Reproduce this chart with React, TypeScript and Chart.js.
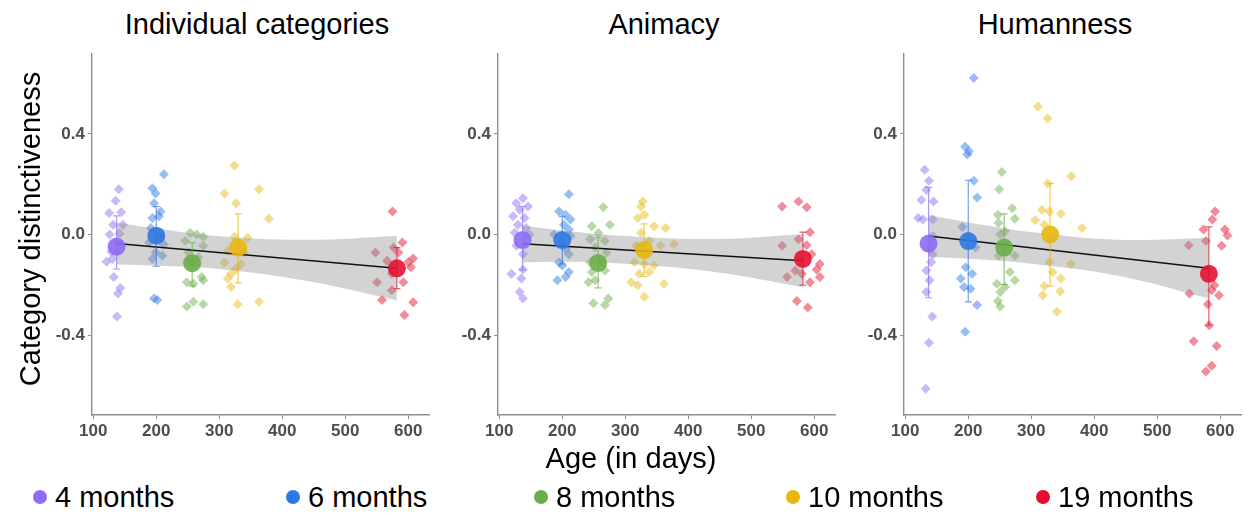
import React, { useEffect, useRef } from 'react';
import { Chart, registerables } from 'chart.js';
Chart.register(...registerables);

// ---------- shared ----------
const groupLabels = ['4 months', '6 months', '8 months', '10 months', '19 months'];
const groupColors = ['#8e6cf4', '#2f78e4', '#6aae48', '#e8b70e', '#e2112f'];
const groupAges = [137, 200, 257, 330, 582];
const xTicks = [100, 200, 300, 400, 500, 600];
const yTicks = [-0.4, 0, 0.4];
const yTickLabels = ['-0.4', '0.0', '0.4'];
const panelTitles = ['Individual categories', 'Animacy', 'Humanness'];
const regX = [137, 582];
const bandX = [137, 200, 300, 440, 582];

// ---------- panel 1: Individual categories ----------
const p1_m4 = [[140.7,0.18],[135.5,0.135],[125.1,0.086],[144.4,0.089],[131.4,0.04],[147,0.04],[141.8,0.005],[126.1,0.001],[136.6,-0.031],[128.7,-0.068],[136.6,-0.07],[130.3,-0.096],[121,-0.107],[132.4,-0.168],[142.8,-0.211],[139.2,-0.233],[137.6,-0.324]];
const p1_m6 = [[212.1,0.24],[193.9,0.184],[199,0.164],[196.5,0.125],[206.9,0.092],[204.3,0.073],[193.9,0.066],[191.3,0.027],[206.9,-0.012],[188.6,-0.031],[212.1,-0.038],[199,-0.07],[209.5,-0.083],[193.9,-0.096],[196.5,-0.253],[201.7,-0.259]];
const p1_m8 = [[253.8,0.008],[264.2,0.001],[274.6,-0.008],[245.9,-0.025],[274.6,-0.044],[251.1,-0.07],[266.8,-0.09],[256.4,-0.109],[272,-0.168],[274.6,-0.181],[248.5,-0.188],[258.9,-0.194],[258.9,-0.266],[274.6,-0.276],[248.5,-0.285]];
const p1_m10 = [[324.1,0.275],[363.1,0.18],[308.4,0.164],[326.7,0.125],[378.8,0.063],[324.1,-0.008],[344.9,-0.012],[313.6,-0.064],[339.7,-0.07],[308.4,-0.109],[334.5,-0.116],[326.7,-0.135],[318.9,-0.155],[313.6,-0.174],[318.9,-0.207],[363.1,-0.266],[329.3,-0.276]];
const p1_m19 = [[575.1,0.092],[590.7,-0.031],[576.7,-0.051],[548,-0.07],[584.5,-0.07],[607.9,-0.094],[566.3,-0.103],[600.1,-0.109],[604.3,-0.129],[574,-0.155],[550.6,-0.188],[592.3,-0.188],[574,-0.22],[558.4,-0.259],[607.9,-0.268],[593.9,-0.318]];
const p1_means = [-0.047, -0.004, -0.113, -0.051, -0.133];
const p1_errHi = [0.075, 0.112, -0.031, 0.083, -0.051];
const p1_errLo = [-0.136, -0.125, -0.203, -0.191, -0.214];
const p1_reg = [-0.035, -0.133];
const p1_bandHi = [0.048, 0.025, -0.006, -0.02, -0.005];
const p1_bandLo = [-0.118, -0.123, -0.136, -0.184, -0.261];

// ---------- panel 2: Animacy ----------
const p2_m4 = [[137.6,0.145],[127.1,0.125],[145.4,0.112],[132.3,0.099],[121.9,0.073],[140.2,0.066],[129.7,0.04],[142.8,0.027],[124.5,0.008],[148,0.001],[127.1,-0.044],[137.6,-0.077],[137.6,-0.138],[119.3,-0.155],[135,-0.174],[132.3,-0.227],[137.6,-0.253]];
const p2_m6 = [[210.5,0.161],[194.9,0.092],[205.3,0.079],[213.1,0.06],[202.7,0.04],[210.5,0.021],[187,0.001],[213.1,-0.005],[197.5,-0.031],[205.3,-0.057],[210.5,-0.077],[194.9,-0.109],[200.1,-0.122],[210.5,-0.148],[205.3,-0.168],[192.3,-0.181]];
const p2_m8 = [[265.2,0.109],[246.9,0.034],[275.6,0.04],[257.4,0.008],[244.3,-0.018],[267.8,-0.025],[252.1,-0.051],[270.4,-0.07],[244.3,-0.109],[262.6,-0.109],[246.9,-0.148],[267.8,-0.142],[241.7,-0.188],[252.1,-0.181],[273,-0.253],[249.5,-0.272],[267.8,-0.279]];
const p2_m10 = [[327.7,0.132],[325.1,0.112],[330.3,0.079],[319.9,0.066],[345.9,0.034],[364.1,0.027],[325.1,0.008],[338.1,-0.025],[377.1,-0.038],[317.2,-0.044],[356.3,-0.044],[314.6,-0.109],[330.3,-0.116],[345.9,-0.122],[338.1,-0.148],[322.5,-0.155],[309.4,-0.188],[361.5,-0.194],[319.9,-0.2],[330.3,-0.246]];
const p2_m19 = [[575.1,0.132],[549.1,0.112],[588.1,0.109],[593.3,0.01],[575.1,-0.018],[588.1,-0.042],[549.1,-0.044],[595.9,-0.077],[608.9,-0.116],[603.8,-0.138],[569.9,-0.142],[580.3,-0.155],[556.9,-0.168],[608.9,-0.168],[593.3,-0.188],[572.5,-0.263],[589.7,-0.289]];
const p2_means = [-0.021, -0.021, -0.112, -0.061, -0.096];
const p2_errHi = [0.112, 0.073, -0.012, 0.043, 0.01];
const p2_errLo = [-0.139, -0.116, -0.211, -0.165, -0.2];
const p2_reg = [-0.036, -0.103];
const p2_bandHi = [0.037, 0.017, -0.005, -0.017, 0.002];
const p2_bandLo = [-0.109, -0.107, -0.115, -0.147, -0.208];

// ---------- panel 3: Humanness ----------
const p3_m4 = [[130.8,0.258],[137.6,0.214],[133.4,0.177],[125.6,0.138],[144.9,0.132],[120.4,0.066],[128.2,0.06],[143.8,0.06],[143.8,-0.005],[138.6,-0.057],[143.8,-0.077],[141.2,-0.109],[133.4,-0.142],[138.6,-0.181],[133.4,-0.227],[142.8,-0.324],[137.6,-0.428],[132.4,-0.611]];
const p3_m6 = [[208.9,0.622],[194.9,0.349],[201.1,0.331],[198.5,0.318],[208.9,0.214],[214.1,0.148],[190.7,0.031],[211.5,-0.051],[195.9,-0.129],[206.3,-0.155],[188.1,-0.174],[193.3,-0.207],[203.7,-0.214],[214.1,-0.279],[194.9,-0.385]];
const p3_m8 = [[253.2,0.249],[249,0.18],[269.9,0.105],[247,0.079],[274,0.063],[248,0.047],[258.4,0.014],[250.6,0.001],[248,-0.083],[274,-0.083],[266.2,-0.148],[274,-0.181],[245.4,-0.194],[258.4,-0.207],[250.6,-0.227],[247,-0.263],[250.6,-0.285]];
const p3_m10 = [[310.5,0.509],[326.1,0.461],[363.6,0.232],[326.1,0.203],[316.8,0.099],[328.7,0.092],[347,0.083],[306.3,0.057],[320.9,0.04],[380.8,0.027],[328.7,-0.109],[362.6,-0.116],[334,-0.148],[347,-0.174],[320.9,-0.203],[345.9,-0.224],[318.3,-0.24],[340.7,-0.305]];
const p3_m19 = [[591.8,0.092],[587.6,0.06],[573.5,0.021],[607.4,0.021],[611.5,-0.003],[577.2,-0.025],[550.1,-0.042],[602.2,-0.044],[590.7,-0.2],[586.5,-0.22],[551.1,-0.233],[598,-0.24],[580.3,-0.276],[582.4,-0.359],[557.9,-0.422],[594.4,-0.441],[586.5,-0.52],[577.2,-0.542]];
const p3_means = [-0.035, -0.025, -0.051, 0.001, -0.155];
const p3_errHi = [0.188, 0.216, 0.083, 0.203, 0.031];
const p3_errLo = [-0.25, -0.266, -0.198, -0.203, -0.359];
const p3_reg = [-0.005, -0.133];
const p3_bandHi = [0.078, 0.049, 0.011, -0.02, -0.013];
const p3_bandLo = [-0.088, -0.095, -0.115, -0.164, -0.253];

type PanelData = {
  points: number[][][];
  means: number[];
  errHi: number[];
  errLo: number[];
  reg: number[];
  bandHi: number[];
  bandLo: number[];
};

const panels: PanelData[] = [
  { points: [p1_m4, p1_m6, p1_m8, p1_m10, p1_m19], means: p1_means, errHi: p1_errHi, errLo: p1_errLo, reg: p1_reg, bandHi: p1_bandHi, bandLo: p1_bandLo },
  { points: [p2_m4, p2_m6, p2_m8, p2_m10, p2_m19], means: p2_means, errHi: p2_errHi, errLo: p2_errLo, reg: p2_reg, bandHi: p2_bandHi, bandLo: p2_bandLo },
  { points: [p3_m4, p3_m6, p3_m8, p3_m10, p3_m19], means: p3_means, errHi: p3_errHi, errLo: p3_errLo, reg: p3_reg, bandHi: p3_bandHi, bandLo: p3_bandLo },
];

const FONT = "'Liberation Sans', Arial, Helvetica, sans-serif";
const AXIS_GRAY = '#8f8f8f';

function hexA(hex: string, a: number) {
  const n = parseInt(hex.slice(1), 16);
  return `rgba(${(n >> 16) & 255},${(n >> 8) & 255},${n & 255},${a})`;
}

const errorBarPlugin = {
  id: 'errorBars',
  afterDatasetDraw(chart: any, args: any) {
    const ds = chart.data.datasets[args.index];
    if (ds.label !== 'reg') return;
    const pd: PanelData = chart.options.plugins.errorBars.panel;
    const xs = chart.scales.x;
    const ys = chart.scales.y;
    const ctx = chart.ctx;
    ctx.save();
    pd.means.forEach((_, i) => {
      const px = xs.getPixelForValue(groupAges[i]);
      const top = ys.getPixelForValue(pd.errHi[i]);
      const bot = ys.getPixelForValue(pd.errLo[i]);
      ctx.strokeStyle = hexA(groupColors[i], 0.7);
      ctx.lineWidth = 1.2;
      ctx.beginPath();
      ctx.moveTo(px, top);
      ctx.lineTo(px, bot);
      ctx.moveTo(px - 3.5, top);
      ctx.lineTo(px + 3.5, top);
      ctx.moveTo(px - 3.5, bot);
      ctx.lineTo(px + 3.5, bot);
      ctx.stroke();
    });
    ctx.restore();
  },
};

const PLOT_W = 342;
const Y_AXIS_W = 50;
const X_AXIS_H = 40;
const PAD_TOP = 8;
const CANVAS_W = Y_AXIS_W + PLOT_W + 4;
const CANVAS_H = PAD_TOP + 367 + X_AXIS_H;
const panelLefts = [92, 498, 904];

function Panel({ idx }: { idx: number }) {
  const ref = useRef<HTMLCanvasElement>(null);
  useEffect(() => {
    const pd = panels[idx];
    const datasets: any[] = [];
    pd.points.forEach((pts, g) => {
      datasets.push({
        type: 'scatter',
        label: groupLabels[g],
        data: pts.map(([x, y]) => ({ x, y })),
        pointStyle: 'rectRot',
        pointRadius: 5,
        borderWidth: 0,
        backgroundColor: hexA(groupColors[g], 0.48),
        order: 50,
      });
    });
    datasets.push({
      type: 'line',
      label: 'bandHi',
      data: bandX.map((x, i) => ({ x, y: pd.bandHi[i] })),
      borderWidth: 0,
      borderColor: 'rgba(0,0,0,0)',
      pointRadius: 0,
      tension: 0.4,
      fill: '+1',
      backgroundColor: 'rgba(150,150,150,0.42)',
      order: 40,
    });
    datasets.push({
      type: 'line',
      label: 'bandLo',
      data: bandX.map((x, i) => ({ x, y: pd.bandLo[i] })),
      borderWidth: 0,
      borderColor: 'rgba(0,0,0,0)',
      pointRadius: 0,
      tension: 0.4,
      fill: false,
      order: 41,
    });
    datasets.push({
      type: 'line',
      label: 'reg',
      data: regX.map((x, i) => ({ x, y: pd.reg[i] })),
      borderColor: '#111111',
      borderWidth: 1.5,
      pointRadius: 0,
      fill: false,
      order: 30,
    });
    datasets.push({
      type: 'scatter',
      label: 'means',
      data: groupAges.map((x, i) => ({ x, y: pd.means[i] })),
      pointStyle: 'circle',
      pointRadius: 9,
      borderWidth: 0,
      backgroundColor: groupColors.map((c) => hexA(c, 0.9)),
      order: 10,
    });

    const tickFont = { family: FONT, size: 17, weight: 'bold' as const };
    const chart = new Chart(ref.current as HTMLCanvasElement, {
      type: 'scatter',
      data: { datasets },
      plugins: [errorBarPlugin],
      options: {
        animation: false,
        responsive: false,
        devicePixelRatio: 1,
        layout: { padding: { top: PAD_TOP, right: 4, left: 0, bottom: 0 } },
        plugins: {
          legend: { display: false },
          tooltip: { enabled: false },
          title: { display: false },
          // @ts-ignore
          errorBars: { panel: pd },
        },
        scales: {
          x: {
            type: 'linear',
            min: 98,
            max: 633,
            afterBuildTicks: (s: any) => {
              s.ticks = xTicks.map((v) => ({ value: v }));
            },
            afterFit: (s: any) => {
              s.height = X_AXIS_H;
            },
            grid: { display: true, drawOnChartArea: false, drawTicks: true, tickLength: 4, color: AXIS_GRAY, lineWidth: 1 },
            border: { display: true, color: AXIS_GRAY, width: 1.4 },
            ticks: {
              color: '#4d4d4d',
              font: tickFont,
              padding: 2,
              maxRotation: 0,
              autoSkip: false,
              callback: (v: any) => String(v),
            },
          },
          y: {
            type: 'linear',
            min: -0.715,
            max: 0.72,
            afterBuildTicks: (s: any) => {
              s.ticks = yTicks.map((v) => ({ value: v }));
            },
            afterFit: (s: any) => {
              s.width = Y_AXIS_W;
            },
            grid: { display: true, drawOnChartArea: false, drawTicks: true, tickLength: 4, color: AXIS_GRAY, lineWidth: 1 },
            border: { display: true, color: AXIS_GRAY, width: 1.4 },
            ticks: {
              color: '#4d4d4d',
              font: tickFont,
              padding: 3,
              autoSkip: false,
              callback: (v: any) => {
                const k = yTicks.findIndex((t) => Math.abs(t - v) < 1e-9);
                return k >= 0 ? yTickLabels[k] : '';
              },
            },
          },
        },
      } as any,
    });
    return () => chart.destroy();
  }, [idx]);
  return (
    <canvas
      ref={ref}
      width={CANVAS_W}
      height={CANVAS_H}
      style={{ position: 'absolute', left: panelLefts[idx] - Y_AXIS_W, top: 40, width: CANVAS_W, height: CANVAS_H }}
    />
  );
}

const titleCenters = [257, 664, 1055];
const legendDotX = [40, 293, 541, 793, 1043];

const textBase: React.CSSProperties = {
  position: 'absolute',
  fontFamily: FONT,
  color: '#000',
  whiteSpace: 'nowrap',
  lineHeight: 1,
};

export default function App() {
  return (
    <div style={{ position: 'fixed', left: 0, top: 0, width: 1246, height: 514, background: '#fff', overflow: 'hidden' }}>
      {[0, 1, 2].map((i) => (
        <Panel key={i} idx={i} />
      ))}
      {panelTitles.map((t, i) => (
        <div key={t} style={{ ...textBase, fontSize: 29, left: titleCenters[i], top: 24, transform: 'translate(-50%, -50%)' }}>
          {t}
        </div>
      ))}
      <div style={{ ...textBase, fontSize: 29, left: 30, top: 229, transform: 'translate(-50%, -50%) rotate(-90deg)' }}>
        Category distinctiveness
      </div>
      <div style={{ ...textBase, fontSize: 29, left: 631, top: 458, transform: 'translate(-50%, -50%)' }}>
        Age (in days)
      </div>
      {groupLabels.map((g, i) => (
        <React.Fragment key={g}>
          <div
            style={{
              position: 'absolute',
              left: legendDotX[i] - 7,
              top: 497 - 7,
              width: 14,
              height: 14,
              borderRadius: 7,
              background: groupColors[i],
            }}
          />
          <div style={{ ...textBase, fontSize: 29, left: legendDotX[i] + 15, top: 497, transform: 'translate(0, -50%)' }}>
            {g}
          </div>
        </React.Fragment>
      ))}
    </div>
  );
}
